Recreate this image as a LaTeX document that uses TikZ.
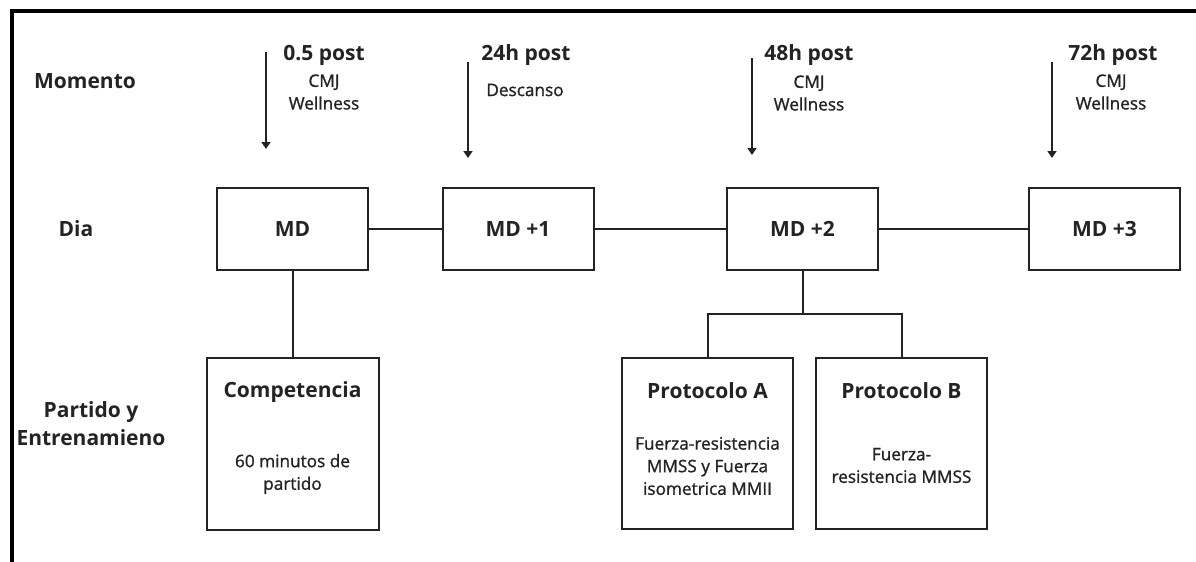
\documentclass[tikz,border=0pt]{standalone}
\usepackage{fontspec}
\setmainfont{Open Sans}
\newfontfamily\semibf[FakeBold=1.2]{Open Sans}
\usetikzlibrary{positioning,arrows.meta}
\definecolor{ink}{RGB}{35,35,35}
\tikzset{
  daybox/.style={draw=ink,line width=1pt,minimum width=75.5pt,minimum height=41pt,inner sep=0pt,font=\bfseries\fontsize{10.5}{12}\selectfont,text=ink},
  taskbox/.style={draw=ink,line width=1pt,minimum width=86pt,minimum height=86pt,inner sep=0pt},
  rowlabel/.style={font=\bfseries\fontsize{10.5}{14}\selectfont,text=ink,align=center},
  headtxt/.style={font=\bfseries\fontsize{10.5}{12}\selectfont,text=ink},
  subtxt/.style={font=\semibf\fontsize{8.6}{11.3}\selectfont,text=ink,align=center},
  link/.style={draw=ink,line width=1pt},
  timearrow/.style={draw=ink,line width=0.9pt,-{Triangle[length=3.5pt,width=4.5pt]}},
}
\begin{document}
\begin{tikzpicture}[x=0.5pt,y=-0.5pt]
\useasboundingbox (0,0) rectangle (1196,562);
% outer frame (cut at right and bottom)
\draw[line width=1.7pt] (12,580) -- (12,11) -- (1215,11);
% row labels
\node[rowlabel] (lblmom) at (85,81) {Momento};
\node[rowlabel] (lbldia) at (76,229) {Dia};
\node[rowlabel] (lblpart) at (91,424) {Partido y\\Entrenamieno};
% day boxes
\node[daybox] (md0) at (292.5,229) {MD};
\node[daybox] (md1) at (518,229) {MD +1};
\node[daybox] (md2) at (802.5,229) {MD +2};
\node[daybox] (md3) at (1104.5,229) {MD +3};
\draw[link] (md0) -- (md1);
\draw[link] (md1) -- (md2);
\draw[link] (md2) -- (md3);
% moments with arrows
\node[headtxt] (t0) at (324,55) {0.5 post};
\node[subtxt] (s0) at (324,92) {CMJ\\Wellness};
\coordinate (a0s) at (266,52);
\coordinate (a0e) at (266,149);
\draw[timearrow] (a0s) -- (a0e);
\node[headtxt] (t1) at (526,55) {24h post};
\node[subtxt] (s1) at (525,90) {Descanso};
\coordinate (a1s) at (468,62);
\coordinate (a1e) at (468,158);
\draw[timearrow] (a1s) -- (a1e);
\node[headtxt] (t2) at (809,55) {48h post};
\node[subtxt] (s2) at (809,93) {CMJ\\Wellness};
\coordinate (a2s) at (752,58);
\coordinate (a2e) at (752,155);
\draw[timearrow] (a2s) -- (a2e);
\node[headtxt] (t3) at (1113,55) {72h post};
\node[subtxt] (s3) at (1111,92) {CMJ\\Wellness};
\coordinate (a3s) at (1052,62);
\coordinate (a3e) at (1052,158);
\draw[timearrow] (a3s) -- (a3e);
% match
\node[taskbox] (comp) at (292.5,444) {};
\node[headtxt] (compT) at (292.5,392) {Competencia};
\node[subtxt] (compB) at (292.5,474) {60 minutos de\\partido};
\draw[link] (md0) -- (comp);
% training protocols
\node[taskbox,minimum width=85.5pt,minimum height=85.5pt] (pA) at (707.5,443.5) {};
\node[headtxt] (pAT) at (707.5,391) {Protocolo A};
\node[subtxt] (pAB) at (707.5,466) {Fuerza-resistencia\\MMSS y Fuerza\\isometrica MMII};
\node[taskbox,minimum width=85.5pt,minimum height=85.5pt] (pB) at (901.5,443.5) {};
\node[headtxt] (pBT) at (901.5,391) {Protocolo B};
\node[subtxt] (pBB) at (901.5,465.5) {Fuerza-\\resistencia MMSS};
\draw[link] (md2.south) -- ++(0,43) coordinate (split);
\draw[link] (pA.north) |- (split) -| (pB.north);
\end{tikzpicture}
\end{document}
